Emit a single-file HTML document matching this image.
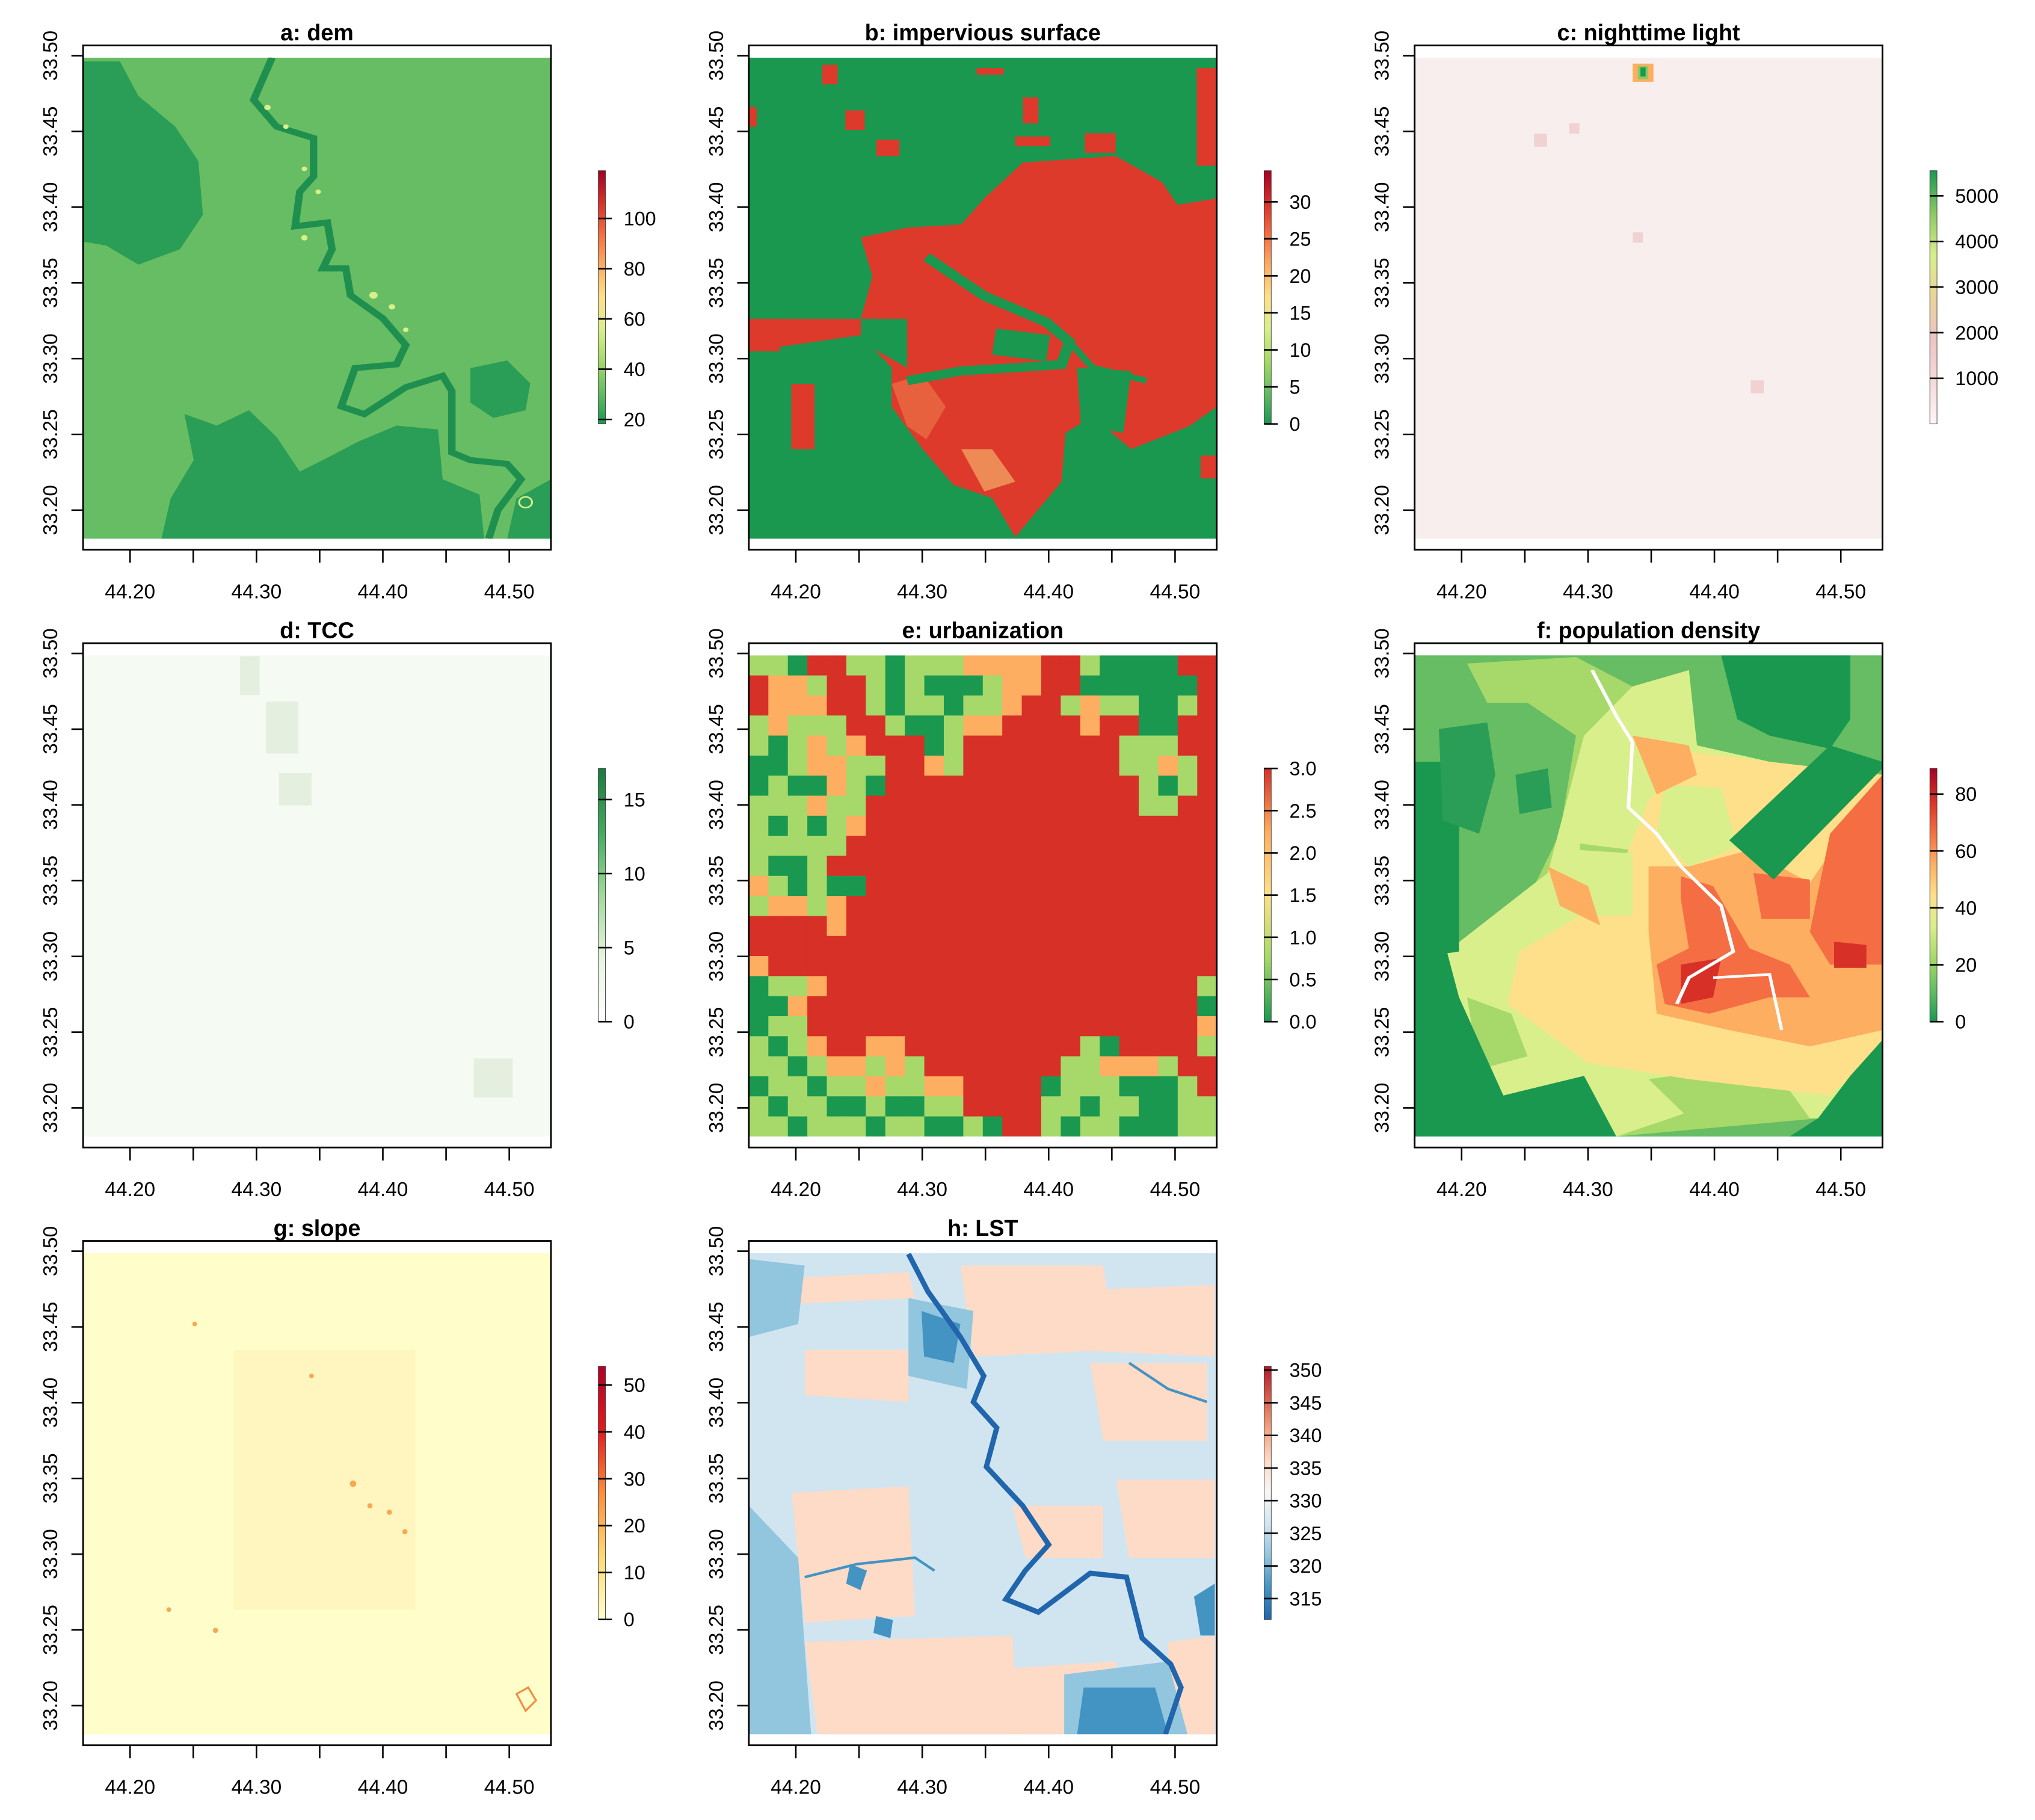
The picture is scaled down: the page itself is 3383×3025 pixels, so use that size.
<!DOCTYPE html>
<html><head><meta charset="utf-8"><style>
html,body{margin:0;padding:0;background:#fff;}
svg{display:block;font-family:"Liberation Sans",Arial,sans-serif;}
</style></head><body>
<svg id="fig" xmlns="http://www.w3.org/2000/svg" width="3383" height="3025" viewBox="0 0 1568 1402.1">
<defs id="defs"></defs>
<rect x="0" y="0" width="1568" height="1402.1" fill="#fff"/>
</svg>
<script>
// ---- data ----
const panelIds=['a','b','c','d','e','f','g','h'];
const panelTitles=['a: dem','b: impervious surface','c: nighttime light','d: TCC','e: urbanization','f: population density','g: slope','h: LST'];
const xTickVals=[44.20,44.25,44.30,44.35,44.40,44.45,44.50];
const xLabelVals=[44.20,44.30,44.40,44.50];
const yTickVals=[33.50,33.45,33.40,33.35,33.30,33.25,33.20];
const cbMin=[18.2,0,0,0,0,0,0,311.8];
const cbMax=[119,34.2,5550,17.1,3.0,89,54,350.6];
const cbTicks=[[20,40,60,80,100],[0,5,10,15,20,25,30],[1000,2000,3000,4000,5000],[0,5,10,15],[0,0.5,1,1.5,2,2.5,3],[0,20,40,60,80],[0,10,20,30,40,50],[315,320,325,330,335,340,345,350]];
const cbDecimals=[0,0,0,0,1,0,0,0];
const cbColors=[
 ['#1a9850','#66bd63','#a6d96a','#d9ef8b','#fee08b','#fdae61','#f46d43','#d73027','#a50026'],
 ['#1a9850','#66bd63','#a6d96a','#d9ef8b','#fee08b','#fdae61','#f46d43','#d73027','#a50026'],
 ['#fdf7f7','#f6dada','#efc4c4','#e9d49a','#d9ef8b','#8cc864','#1a9850'],
 ['#ffffff','#e5f5e0','#a1d99b','#41ab5d','#1a7a40'],
 ['#1a9850','#a6d96a','#fee08b','#fdae61','#d73027'],
 ['#1a9850','#66bd63','#a6d96a','#d9ef8b','#fee08b','#fdae61','#f46d43','#d73027','#a50026'],
 ['#ffffcc','#fed976','#fd8d3c','#e31a1c','#b10026'],
 ['#2166ac','#4393c3','#92c5de','#d1e5f0','#f7f7f7','#fddbc7','#f4a582','#d6604d','#b2182b']];
const urbanGrid=[
"GGDRRGGDGGGOOOORRGDDDDRR","ROOGRRGDGDDDGOORRDDDDDDR","ROOORRGDGGDGGORRGOGGDDGR","GOGGGRRGDDGOORRRRORRDDRR",
"GDGOGORRRDGRRRRRRRRGGGRR","DDGOOGGRROGRRRRRRRRGGOGR","DGDDOGDRRRRRRRRRRRRRGDGR","GGGOGGRRRRRRRRRRRRRRGGRR",
"GDGDGORRRRRRRRRRRRRRRRRR","GGGGGRRRRRRRRRRRRRRRRRRR","GDDGRRRRRRRRRRRRRRRRRRRR","OGDGDDRRRRRRRRRRRRRRRRRR",
"GOOGORRRRRRRRRRRRRRRRRRR","RRRRORRRRRRRRRRRRRRRRRRR","RRRRRRRRRRRRRRRRRRRRRRRR","ORRRRRRRRRRRRRRRRRRRRRRR",
"DGGORRRRRRRRRRRRRRRRRRRG","DDORRRRRRRRRRRRRRRRRRRRD","DGGRRRRRRRRRRRRRRRRRRRRO","GDGORROORRRRRRRRRGDRRRRG",
"GGDGOOGOGRRRRRRRGGOOOGRR","DGGDGGOGGOORRRRDGGGDDDGR","GDGGDDGDDGGRRRRGGDGGDDGG","GGDGGGDGGDDGDRRGDGGDDDGG"];

// ---- layout ----
const colX=[0,513,1026], rowY=[0,460.5,921];
const BX0=64,BX1=424.5,BY0=35,BY1=423.5, RY0=44.4, RY1=415;
const CBX=461, CBW=5.5, CBT=131.5, CBB=326.6;
function xScale(v){return 100.2+(v-44.2)/0.05*48.7;}
function yScale(v){return 42.9+(33.5-v)/0.05*58.35;}
const NS='http://www.w3.org/2000/svg';
const svg=document.getElementById('fig'), defs=document.getElementById('defs');
function mk(tag,attrs,parent){const e=document.createElementNS(NS,tag);for(const k in attrs)e.setAttribute(k,attrs[k]);if(parent)parent.appendChild(e);return e;}

// ---- raster contents (local coords of panel a position) ----
const rasters={
a:`<rect x="64" y="44.4" width="361" height="371" fill="#66bd63"/>
<g transform="translate(64,44.4) scale(0.3552,0.2953) translate(-180,-150)">
<path fill="#2a9d56" d="M180 160 L260 160 L300 250 L380 330 L430 420 L440 560 L390 650 L300 690 L230 640 L180 630 Z"/>
<path fill="#2a9d56" d="M400 1080 L470 1110 L540 1070 L600 1140 L650 1230 L700 1200 L780 1150 L860 1110 L950 1120 L960 1250 L1040 1290 L1050 1405 L350 1405 L370 1300 L420 1200 Z"/>
<path fill="#2a9d56" d="M1020 960 L1100 940 L1150 1000 L1140 1070 L1070 1090 L1020 1050 Z"/>
<path fill="#2a9d56" d="M1120 1300 L1195 1250 L1195 1405 L1100 1405 Z"/>
<path fill="none" stroke="#1f8f4f" stroke-width="16" d="M590 150 L550 260 L600 330 L680 360 L680 460 L650 500 L640 590 L710 580 L720 650 L700 700 L750 700 L760 770 L830 830 L880 900 L860 950 L770 960 L740 1060 L790 1080 L880 1010 L960 980 L980 1020 L980 1180 L1020 1200 L1100 1210 L1130 1250 L1080 1330 L1060 1405"/>
<g fill="#d9ef8b"><circle cx="580" cy="280" r="7"/><circle cx="620" cy="330" r="6"/><circle cx="660" cy="440" r="6"/><circle cx="690" cy="500" r="6"/><circle cx="660" cy="620" r="7"/><circle cx="810" cy="770" r="9"/><circle cx="850" cy="800" r="7"/><circle cx="880" cy="860" r="6"/><circle cx="1140" cy="1310" r="14" fill="none" stroke="#d9ef8b" stroke-width="4"/></g>
</g>`,
b:`<rect x="64" y="44.4" width="361" height="371" fill="#1a9850"/>
<g transform="translate(64,44.4) scale(0.2975,0.2509) translate(-10,-48)">
<path fill="#dd3a2b" d="M300 600 L420 570 L560 560 L620 480 L720 370 L960 350 L1080 430 L1120 500 L1222 480 L1222 1120 L1150 1180 L1000 1250 L900 1150 L830 1200 L820 1350 L700 1520 L640 1400 L540 1360 L460 1250 L380 1120 L380 1000 L300 900 L10 950 L10 850 L300 850 L330 720 Z"/>
<path fill="#e8613f" d="M380 1050 L460 1020 L520 1120 L470 1220 L420 1180 Z"/>
<path fill="#ee8a55" d="M560 1250 L640 1250 L700 1350 L620 1380 Z"/>
<path fill="#1a9850" d="M650 880 L790 900 L780 980 L640 960 Z"/>
<path fill="#1a9850" d="M860 1000 L1000 1010 L980 1200 L870 1180 Z"/>
<path fill="#1a9850" d="M300 850 L420 850 L420 1000 L300 920 Z"/>
<path fill="none" stroke="#1a9850" stroke-width="28" d="M470 660 L620 780 L780 860 L840 920 L820 990 L700 1000 L560 1010 L420 1040"/>
<path fill="none" stroke="#1a9850" stroke-width="18" d="M840 920 L900 1000 L1040 1040"/>
<g fill="#dd3a2b"><rect x="200" y="70" width="40" height="60"/><rect x="260" y="210" width="50" height="60"/><rect x="340" y="300" width="60" height="50"/><rect x="720" y="170" width="40" height="80"/><rect x="700" y="290" width="90" height="30"/><rect x="880" y="280" width="80" height="60"/><rect x="1170" y="80" width="50" height="300"/><rect x="120" y="1050" width="60" height="200"/><rect x="10" y="850" width="80" height="100"/><rect x="1180" y="1270" width="42" height="70"/><rect x="600" y="80" width="70" height="20"/><rect x="10" y="200" width="20" height="60"/></g>
</g>`,
c:`<rect x="64" y="44.4" width="361" height="371" fill="#f8eeee"/>
<g transform="translate(-1026,0)">
<rect x="1258" y="49" width="16" height="14" fill="#fdae61"/><rect x="1262" y="51" width="8" height="10" fill="#8cc864"/><rect x="1264" y="52" width="4" height="7" fill="#1a9850"/>
<g fill="#f1d2d2"><rect x="1182" y="103" width="10" height="10"/><rect x="1209" y="95" width="8" height="8"/><rect x="1258" y="179" width="8" height="8"/><rect x="1349" y="293" width="10" height="10"/></g>
</g>`,
d:`<rect x="64" y="44.4" width="361" height="371" fill="#f5faf3"/>
<g transform="translate(0,-460)" fill="#e4efe0"><rect x="185" y="505" width="15" height="30"/><rect x="205" y="540" width="25" height="40"/><rect x="215" y="595" width="25" height="25"/><rect x="365" y="815" width="30" height="30"/></g>`,
e:'',
f:`<rect x="64" y="44.4" width="361" height="371" fill="#1a9850"/>
<g transform="translate(64,44.4) scale(0.3108,0.2521) translate(-20,-55)">
<path fill="#66bd63" d="M20 55 L780 55 L820 250 L900 300 L1050 340 L1100 250 L1100 55 L1180 55 L1180 1230 L1100 1340 L1020 1470 L950 1525 L520 1525 L440 1340 L240 1400 L130 1100 L100 960 L130 960 L130 380 L20 380 Z"/>
<path fill="#a6d96a" d="M150 80 L420 60 L560 150 L700 100 L720 330 L900 380 L1180 420 L1180 1230 L1020 1470 L520 1525 L440 1340 L240 1400 L130 1100 L100 960 L300 800 L380 600 L420 300 L300 200 L200 200 Z"/>
<path fill="#d9ef8b" d="M100 960 L350 720 L440 300 L560 150 L700 100 L720 330 L900 380 L1180 420 L1180 1230 L1020 1470 L700 1450 L520 1525 L440 1340 L240 1400 L130 1100 Z"/>
<path fill="#a6d96a" d="M430 630 L560 650 L560 800 L430 820 Z M420 860 L560 860 L580 1000 L440 1000 Z M150 1100 L260 1150 L300 1280 L180 1320 Z M600 1350 L900 1300 L1000 1470 L700 1470 Z"/>
<path fill="#fee08b" d="M280 960 L500 800 L600 500 L700 350 L900 380 L1180 420 L1180 1250 L1050 1400 L700 1350 L450 1300 L250 1120 Z"/>
<path fill="#d9ef8b" d="M640 450 L780 460 L820 640 L700 700 L620 600 Z M430 650 L560 660 L560 850 L420 850 Z"/>
<path fill="#fdae61" d="M600 700 L700 700 L850 650 L1000 750 L1180 420 L1180 1200 L1000 1250 L800 1200 L620 1150 L600 900 Z M560 300 L700 330 L720 420 L620 480 Z M350 700 L450 760 L480 880 L380 820 Z"/>
<path fill="#f46d43" d="M680 730 L760 760 L850 950 L950 1000 L1000 1100 L900 1100 L750 1150 L640 1120 L620 1000 L700 950 L680 800 Z M1050 600 L1180 420 L1180 1000 L1050 1000 L1000 900 Z M860 720 L1000 740 L1000 860 L880 860 Z"/>
<path fill="#d73027" d="M680 1000 L780 980 L760 1100 L680 1120 Z M1060 930 L1140 940 L1140 1010 L1060 1010 Z"/>
<path fill="#1a9850" d="M800 620 L1050 330 L1180 380 L1180 400 L910 740 Z"/>
<path fill="#1a9850" d="M20 380 L130 380 L130 960 L20 980 Z M20 980 L100 960 L130 1100 L240 1400 L440 1340 L520 1525 L20 1525 Z M1180 1230 L1100 1340 L1020 1470 L950 1525 L1180 1525 Z M780 55 L1100 55 L1100 250 L1050 340 L900 300 L820 250 Z"/>
<path fill="#2a9d56" d="M80 280 L200 260 L220 420 L180 600 L90 560 Z M270 420 L350 400 L360 520 L280 540 Z"/>
<path fill="none" stroke="#ffffff" stroke-width="9" d="M460 100 L520 240 L560 320 L550 520 L620 600 L680 700 L780 820 L810 960 L700 1040 L670 1120"/>
<path fill="none" stroke="#ffffff" stroke-width="8" d="M760 1040 L900 1030 L930 1200"/>
</g>`,
g:`<rect x="64" y="44.4" width="361" height="371" fill="#fffdc9"/>
<g transform="translate(0,-921)"><g fill="#fde5a0"><rect x="180" y="1040" width="140" height="200" opacity="0.25"/></g>
<g fill="#f7a850"><circle cx="272" cy="1143" r="2.5"/><circle cx="285" cy="1160" r="2"/><circle cx="300" cy="1165" r="2"/><circle cx="312" cy="1180" r="2"/><circle cx="240" cy="1060" r="1.8"/><circle cx="150" cy="1020" r="1.8"/><circle cx="166" cy="1256" r="2"/><circle cx="130" cy="1240" r="1.8"/></g>
<path d="M398 1305 L407 1300 L413 1310 L405 1318 Z" fill="none" stroke="#f09040" stroke-width="1.5"/></g>`,
h:`<rect x="64" y="44.4" width="361" height="371" fill="#d1e5f0"/>
<g transform="translate(-513,-921)">
<g fill="#fddbc7"><path d="M600 985 L700 980 L705 1000 L600 1005 Z"/><path d="M740 975 L850 975 L860 1040 L750 1045 Z"/><path d="M800 995 L936 990 L936 1045 L820 1040 Z"/><path d="M620 1040 L700 1040 L700 1080 L620 1075 Z"/><path d="M860 1140 L936 1140 L936 1200 L870 1200 Z"/><path d="M610 1150 L700 1145 L705 1245 L620 1250 Z"/><path d="M620 1265 L780 1260 L785 1336 L630 1336 Z"/><path d="M780 1285 L860 1280 L860 1336 L780 1336 Z"/><path d="M900 1265 L936 1260 L936 1336 L900 1336 Z"/><path d="M840 1050 L930 1050 L930 1110 L850 1110 Z"/><path d="M780 1160 L850 1160 L850 1200 L790 1200 Z"/></g>
<g fill="#92c5de"><path d="M577 1160 L615 1200 L625 1336 L577 1336 Z"/><path d="M577 970 L620 975 L615 1020 L577 1030 Z"/><path d="M820 1290 L900 1280 L915 1336 L820 1336 Z"/><path d="M700 1000 L750 1010 L745 1070 L700 1060 Z"/></g>
<g fill="#4393c3"><path d="M835 1300 L890 1300 L900 1336 L830 1336 Z"/><path d="M710 1010 L740 1020 L735 1050 L712 1045 Z"/><path d="M655 1205 L668 1210 L663 1225 L652 1220 Z"/><path d="M675 1245 L688 1248 L686 1262 L673 1258 Z"/><path d="M920 1230 L936 1220 L936 1260 L925 1260 Z"/></g>
<path fill="none" stroke="#2166ac" stroke-width="4" d="M700 966 L715 995 L740 1030 L758 1060 L750 1080 L768 1100 L760 1130 L788 1160 L808 1190 L790 1210 L775 1232 L800 1242 L840 1212 L868 1215 L880 1262 L902 1282 L910 1300 L898 1336"/>
<path fill="none" stroke="#4393c3" stroke-width="2" d="M620 1215 L660 1205 L705 1200 L720 1210 M870 1050 L900 1070 L930 1080"/>
</g>`
};

// ---- build panels ----
panelIds.forEach((id,i)=>{
  const col=i%3,row=Math.floor(i/3);
  const g=mk('g',{transform:`translate(${colX[col]},${rowY[row]})`},svg);
  
  
  const cp=mk('clipPath',{id:'clip'+id},defs);
  mk('rect',{x:BX0,y:RY0,width:BX1-BX0,height:RY1-RY0},cp);
  const rg=mk('g',{'clip-path':`url(#clip${id})`},g);
  
  
  rg.innerHTML=rasters[id];
  if(id==='e'){
    const colors={R:'#d73027',G:'#a6d96a',D:'#1a9850',O:'#fdae61'};
    const nr=urbanGrid.length,nc=urbanGrid[0].length;
    const cw=(BX1-BX0)/nc,ch=(RY1-RY0)/nr;
    urbanGrid.forEach((s,r)=>{for(let c=0;c<nc;c++){
      const cell=mk('rect',{x:BX0+c*cw,y:RY0+r*ch,width:cw+0.4,height:ch+0.4,fill:colors[s[c]]},rg);
      
      
    }});
  }
  const box=mk('rect',{x:BX0,y:BY0,width:BX1-BX0,height:BY1-BY0,fill:'none',stroke:'#000','stroke-width':1.3},g);
  
  
  const t=mk('text',{x:(BX0+BX1)/2,y:31,'text-anchor':'middle','font-size':17.5,'font-weight':'bold',fill:'#000'},g);
  t.textContent=panelTitles[i];
  
  
  xTickVals.forEach(v=>{const x=xScale(v);
    const tk=mk('line',{x1:x,x2:x,y1:BY1,y2:BY1+10,stroke:'#000','stroke-width':1.2},g);
    
    });
  xLabelVals.forEach(v=>{
    const tx=mk('text',{x:xScale(v),y:461,'text-anchor':'middle','font-size':15.5,fill:'#000'},g);
    tx.textContent=v.toFixed(2);
    
    });
  yTickVals.forEach(v=>{const y=yScale(v);
    const tk=mk('line',{x1:BX0-9,x2:BX0,y1:y,y2:y,stroke:'#000','stroke-width':1.2},g);
    
    
    const ty=mk('text',{x:0,y:0,transform:`translate(44,${y}) rotate(-90)`,'text-anchor':'middle','font-size':15.5,fill:'#000'},g);
    ty.textContent=v.toFixed(2);
    
    });
  const gr=mk('linearGradient',{id:'grad'+id,x1:0,y1:1,x2:0,y2:0},defs);
  cbColors[i].forEach((c,k,a)=>mk('stop',{offset:k/(a.length-1),'stop-color':c},gr));
  const bar=mk('rect',{x:CBX,y:CBT,width:CBW,height:CBB-CBT,fill:`url(#grad${id})`,stroke:'#333','stroke-width':0.4},g);
  
  
  const cbS=v=>CBB-(v-cbMin[i])/(cbMax[i]-cbMin[i])*(CBB-CBT);
  cbTicks[i].forEach(v=>{const y=cbS(v);
    const tk=mk('line',{x1:CBX,x2:CBX+CBW+5,y1:y,y2:y,stroke:'#000','stroke-width':1.2},g);
    
    
    const tl=mk('text',{x:CBX+CBW+14,y:y+5.3,'font-size':15,fill:'#000'},g);
    tl.textContent=v.toFixed(cbDecimals[i]);
    
    });
});
</script>
</body></html>
